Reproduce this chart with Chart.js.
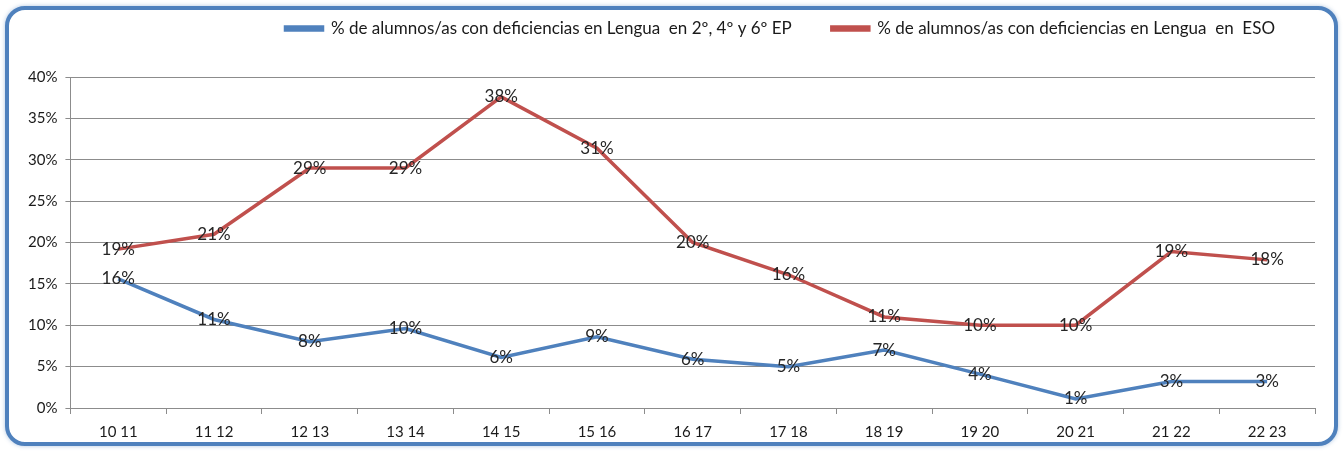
<!DOCTYPE html>
<html>
<head>
<meta charset="utf-8">
<script src="https://cdn.jsdelivr.net/npm/chart.js@4"></script>
<style>
  html, body { margin: 0; padding: 0; background: #ffffff; }
  .frame {
    position: absolute; left: 5px; top: 6px; width: 1325px; height: 432px;
    border: 4px solid #4f81bd; border-radius: 20px;
    box-shadow: 0 0 4px rgba(79,129,189,0.45);
    background: #ffffff;
  }
  .wrap { position: absolute; left: 0; top: 0; width: 1343px; height: 452px; }
</style>
</head>
<body>
<div class="frame"></div>
<div class="wrap"><canvas id="chart"></canvas></div>
<script>
Chart.defaults.font.family = "Lato, 'Open Sans', sans-serif";
Chart.defaults.font.size = 15;
Chart.defaults.color = '#1a1a1a';

const categories = ['10 11', '11 12', '12 13', '13 14', '14 15', '15 16', '16 17',
                    '17 18', '18 19', '19 20', '20 21', '21 22', '22 23'];
const primaria = [15.6, 10.7, 8.0, 9.6, 6.1, 8.6, 5.9, 5.0, 7.0, 4.1, 1.1, 3.2, 3.2];
const eso      = [19.2, 21.0, 29.0, 29.0, 37.6, 31.4, 20.0, 16.1, 11.0, 10.0, 10.0, 18.9, 17.9];
const yTicks   = [0, 5, 10, 15, 20, 25, 30, 35, 40];

const BLUE = '#4f81bd';
const RED  = '#c0504d';
const GRID = '#8c8c8c';

const dataLabels = {
  id: 'dataLabels',
  afterDatasetsDraw(chart) {
    const { ctx } = chart;
    ctx.save();
    ctx.font = "17px Lato, 'Open Sans', sans-serif";
    ctx.fillStyle = '#262626';
    ctx.textAlign = 'center';
    ctx.textBaseline = 'middle';
    chart.data.datasets.forEach((ds, i) => {
      chart.getDatasetMeta(i).data.forEach((pt, j) => {
        ctx.fillText(Math.round(ds.data[j]) + '%', pt.x, pt.y);
      });
    });
    ctx.restore();
  }
};

const legendGap = {
  id: 'legendGap',
  beforeInit(chart) {
    const fit = chart.legend.fit;
    chart.legend.fit = function () {
      fit.bind(chart.legend)();
      this.height += 30;
    };
  }
};

new Chart(document.getElementById('chart'), {
  type: 'line',
  data: {
    labels: categories,
    datasets: [
      {
        label: '% de alumnos/as con deficiencias en Lengua  en 2º, 4º y 6º EP',
        data: primaria,
        borderColor: BLUE,
        backgroundColor: BLUE,
        borderWidth: 3.5,
        pointRadius: 0,
        tension: 0,
      },
      {
        label: '% de alumnos/as con deficiencias en Lengua  en  ESO',
        data: eso,
        borderColor: RED,
        backgroundColor: RED,
        borderWidth: 3.5,
        pointRadius: 0,
        tension: 0,
      }
    ]
  },
  options: {
    responsive: true, maintainAspectRatio: false,
    animation: false,
    layout: { padding: { left: 20, right: 28, top: -20, bottom: 2 } },
    plugins: {
      legend: {
        align: 'end',
        labels: { boxWidth: 37, boxHeight: 3, padding: 40, color: '#1a1a1a', font: { size: 17 } }
      },
      tooltip: { enabled: false }
    },
    scales: {
      x: {
        offset: true,
        grid: { offset: true, drawOnChartArea: false, tickLength: 6, color: GRID },
        border: { color: GRID },
        ticks: { padding: 9, color: '#1a1a1a' }
      },
      y: {
        min: 0, max: 40,
        afterBuildTicks: axis => { axis.ticks = yTicks.map(v => ({ value: v })); },
        grid: { color: GRID, tickLength: 5 },
        border: { color: GRID },
        ticks: { padding: 8, color: '#1a1a1a', callback: v => v + '%' }
      }
    }
  },
  plugins: [dataLabels, legendGap]
});
</script>
</body>
</html>
